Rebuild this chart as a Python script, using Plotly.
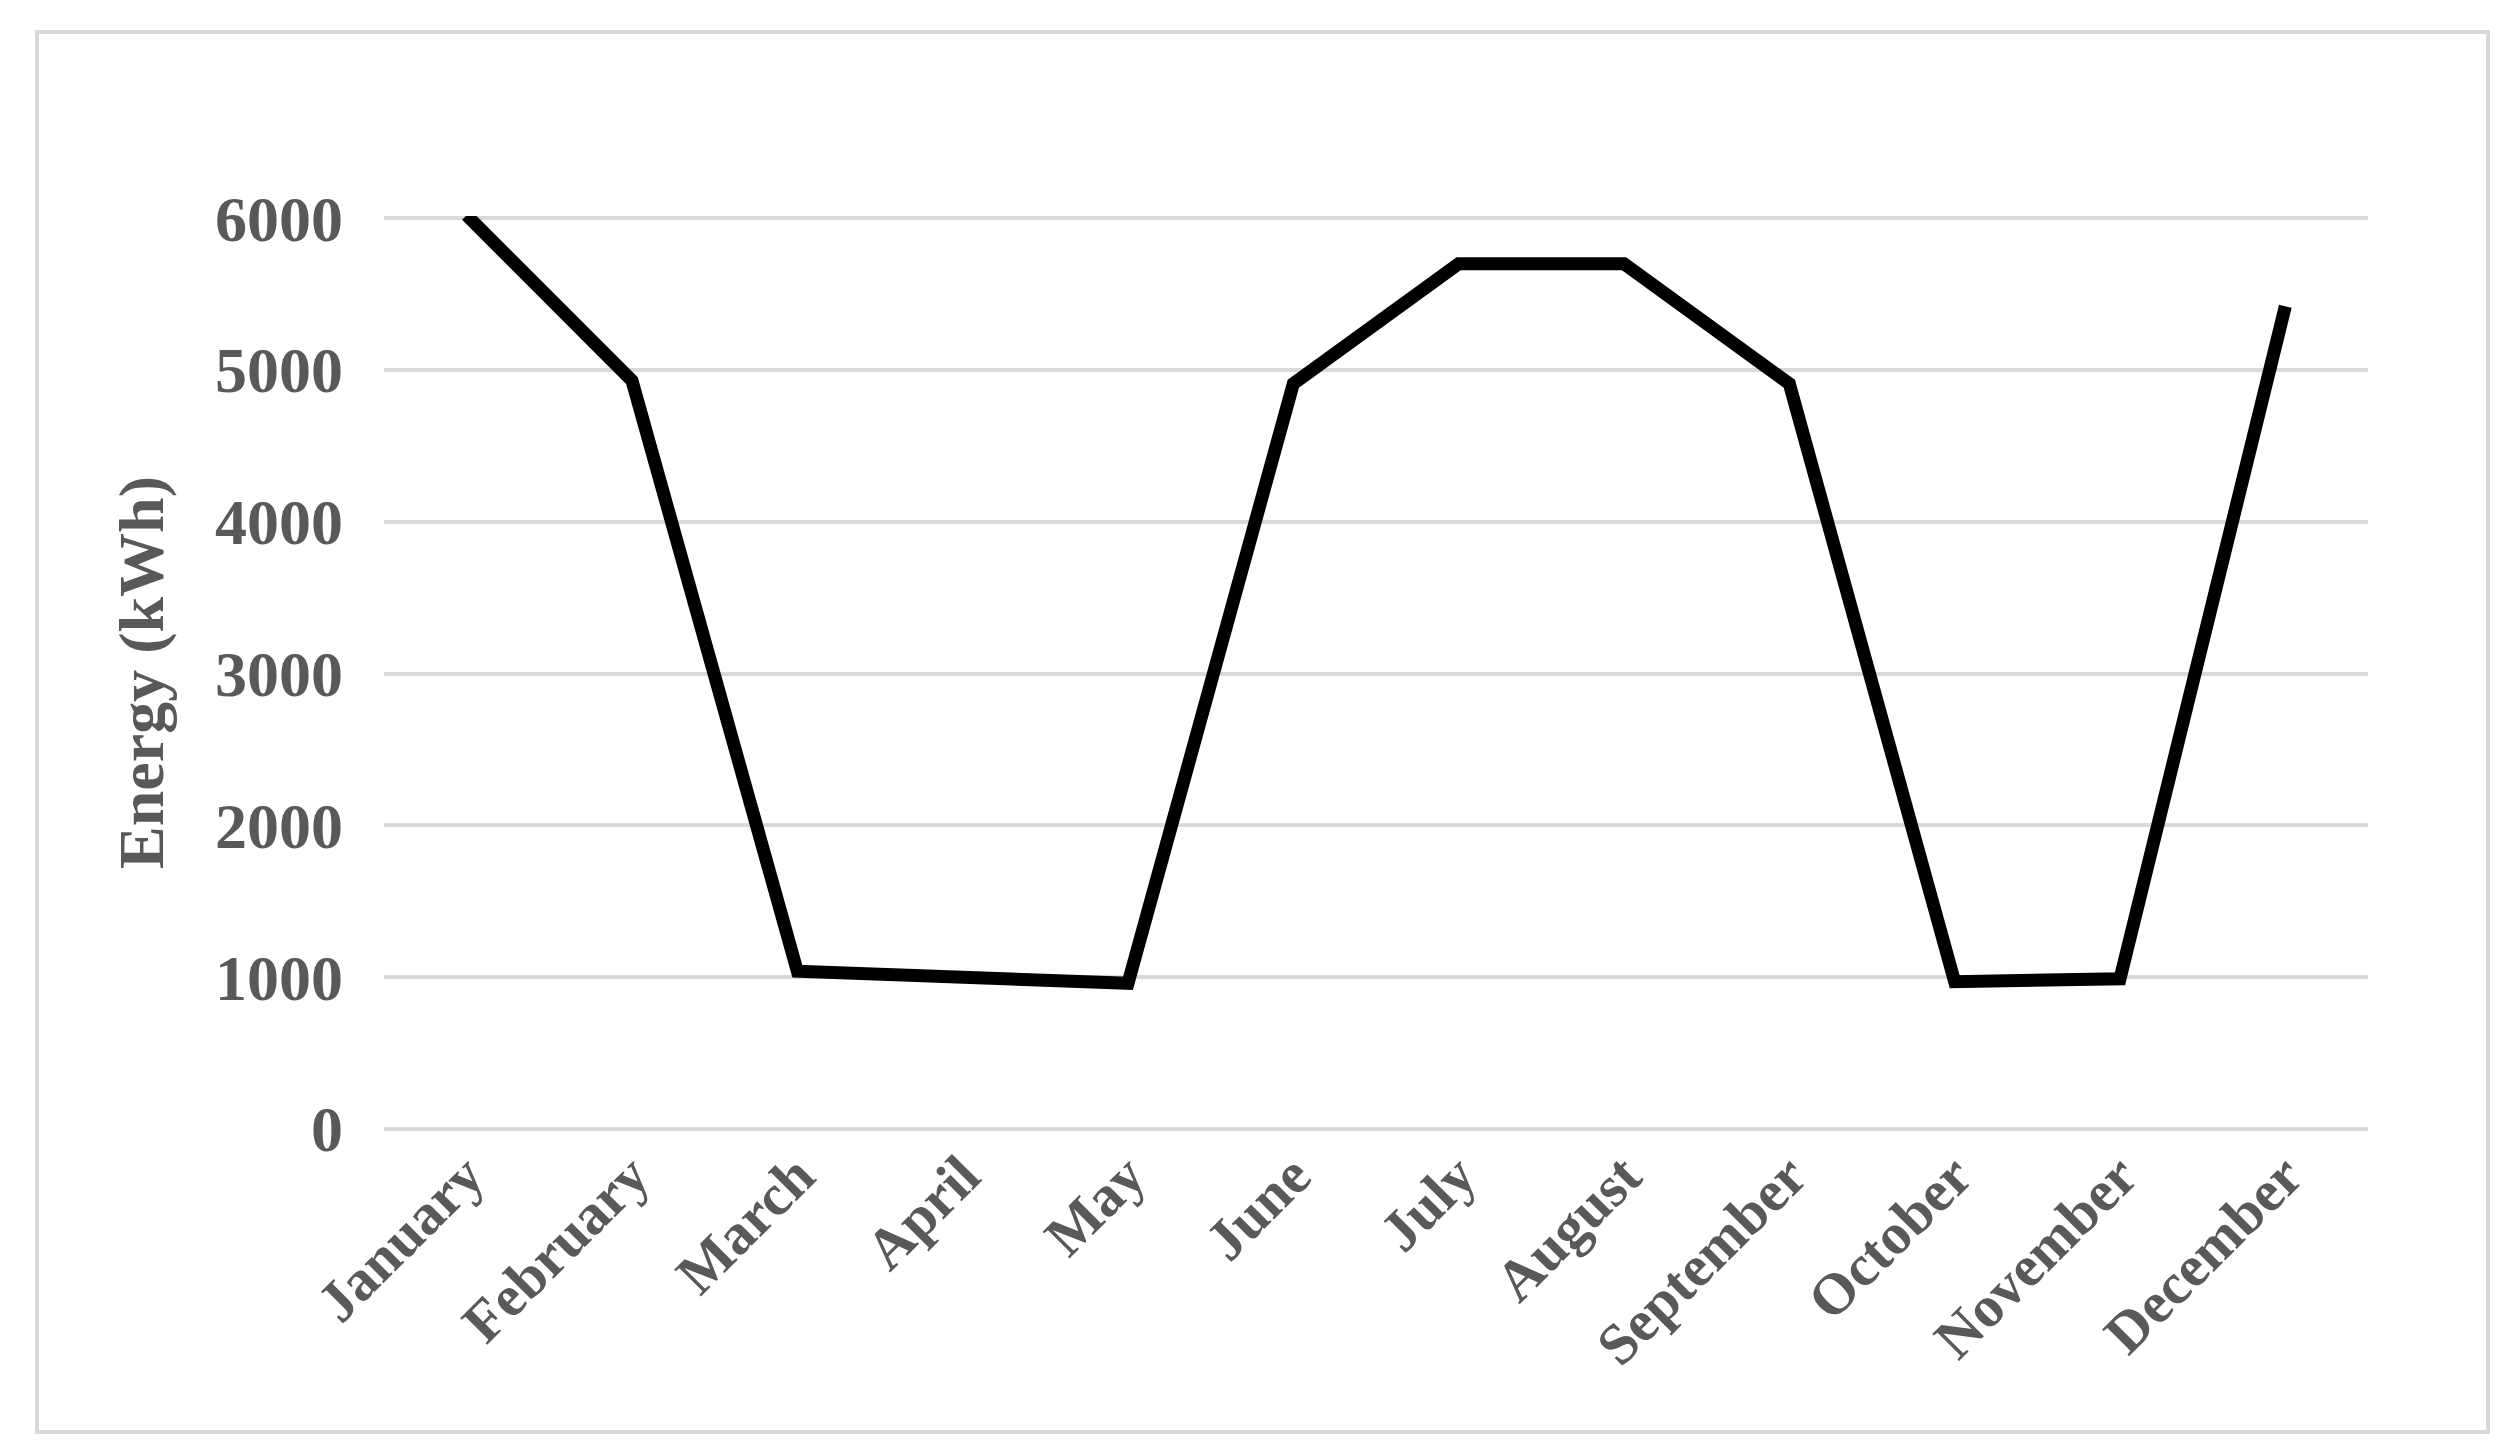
import plotly.graph_objects as go

months = ["January","February","March","April","May","June","July","August","September","October","November","December"]
energy = [6020, 4930, 1040, 990, 960, 4910, 5700, 5700, 4910, 970, 990, 5420]
yticks = [0, 1000, 2000, 3000, 4000, 5000, 6000]

W, H = 2508, 1448
l, r, t, b = 376, 148, 208, 327
pw, ph = W - l - r, H - t - b

ff = "Liberation Serif, Times New Roman, serif"
fig = go.Figure(go.Scatter(x=months, y=energy, mode="lines",
                           line=dict(color="black", width=13), cliponaxis=False))
fig.update_layout(
    width=W, height=H, margin=dict(l=l, r=r, t=t, b=b),
    plot_bgcolor="white", paper_bgcolor="white", showlegend=False,
    font=dict(family=ff, color="#595959", size=60),
    xaxis=dict(tickangle=-45, showgrid=False, showline=False, ticks="",
               range=[-0.5, 11.5],
               tickfont=dict(family=ff, color="#595959", size=58, weight="bold")),
    yaxis=dict(range=[0, 6015], tickvals=yticks, gridcolor="#d9d9d9", gridwidth=4,
               zeroline=True, zerolinecolor="#d9d9d9", zerolinewidth=4,
               showline=False, ticks="", ticklabelstandoff=40,
               tickfont=dict(family=ff, color="#595959", size=64, weight="bold"),
               title=dict(text="Energy (kWh)", standoff=30,
                          font=dict(family=ff, color="#595959", size=64, weight="bold"))),
)
fig.add_shape(type="rect", xref="paper", yref="paper",
              x0=(29 - l) / pw, x1=(2480 - l) / pw,
              y0=(H - b - 1424) / ph, y1=(H - b - 24) / ph,
              line=dict(color="#d9d9d9", width=4), layer="below")
fig.write_html("out.html")
